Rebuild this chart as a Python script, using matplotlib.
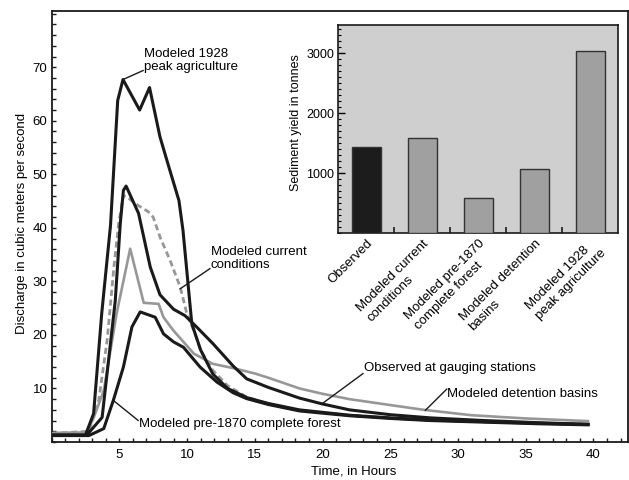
import matplotlib
matplotlib.use("Agg")
import matplotlib.pyplot as plt
from matplotlib.ticker import FixedLocator, MultipleLocator

plt.rcParams['font.family'] = ['Liberation Sans', 'DejaVu Sans']

# ---------------- data: hydrographs ----------------
obs_t = [0, 2.6, 3.73, 4.7, 5.07, 5.3, 5.5, 6.42, 7.28, 8.0, 9.0, 9.85, 10.7, 11.9, 13.4, 14.4, 16, 18.3, 20, 22, 25, 28, 32, 36, 39.6]
obs_q = [1.3, 1.3, 4.6, 26.4, 40.8, 47, 47.8, 42.7, 32.7, 27.5, 24.8, 23.6, 21.5, 18.4, 14.2, 11.8, 10.2, 8.2, 7.1, 6.0, 5.1, 4.5, 4.0, 3.6, 3.3]

agr_t = [0, 2.5, 3.1, 3.7, 4.35, 4.88, 5.27, 6.5, 7.23, 8.0, 8.7, 9.4, 9.7, 10.35, 11.0, 11.9, 13.0, 14.4, 16, 18.3, 22, 25, 28, 32, 36, 39.6]
agr_q = [1.3, 1.3, 5.3, 24, 40.5, 63.8, 67.7, 62, 66.2, 57, 51, 45.1, 39.5, 22.1, 17.2, 12.7, 10.0, 8.3, 7.2, 6.0, 5.0, 4.5, 4.1, 3.8, 3.5, 3.3]

cur_t = [0, 2.75, 3.48, 4.1, 4.6, 4.95, 5.3, 5.56, 6.18, 7.15, 7.5, 8.0, 8.75, 9.5, 9.98, 10.5, 11.0, 11.9, 13.0, 14.4, 16, 18.3, 22, 25, 28, 32, 36, 39.6]
cur_q = [1.6, 2.0, 7.8, 19, 32.7, 40.8, 46, 45.8, 44.5, 43, 42, 38.3, 33.9, 28.9, 24, 20.8, 17.1, 13.4, 10.5, 8.4, 7.1, 5.9, 5.0, 4.5, 4.1, 3.8, 3.5, 3.3]

det_t = [0, 2.6, 3.1, 3.85, 4.8, 5.8, 6.8, 7.9, 8.26, 9.0, 10.5, 11.9, 13.4, 15, 16, 18.3, 20, 22, 25, 27.5, 31, 35, 39.6]
det_q = [1.7, 1.8, 4.5, 9.6, 24, 36.1, 26, 25.8, 23.3, 20.8, 16.5, 14.6, 13.8, 12.8, 12.0, 10.0, 9.0, 8.0, 6.9, 6.0, 5.0, 4.4, 3.9]

for_t = [0, 2.75, 3.85, 4.56, 5.3, 5.93, 6.54, 7.65, 8.26, 9.0, 9.73, 10.96, 12.2, 13.4, 14.4, 16, 18.3, 22, 25, 28, 32, 36, 39.6]
for_q = [1.2, 1.2, 2.5, 7.8, 14, 21.5, 24.3, 23.3, 20.2, 18.7, 17.7, 14, 11.2, 9.2, 8.1, 7.0, 5.8, 4.9, 4.4, 4.0, 3.7, 3.4, 3.2]

# ---------------- data: sediment bars ----------------
bar_labels = ["Observed", "Modeled current\nconditions", "Modeled pre-1870\ncomplete forest",
              "Modeled detention\nbasins", "Modeled 1928\npeak agriculture"]
bar_values = [1440, 1580, 590, 1066, 3045]
bar_colors = ["#1c1c1c", "#a0a0a0", "#a0a0a0", "#a0a0a0", "#a0a0a0"]

x_major = [5, 10, 15, 20, 25, 30, 35, 40]
y_major = [10, 20, 30, 40, 50, 60, 70]

BLACK = "#1a1a1a"
GRAY = "#979797"
FS = 9.5

fig = plt.figure(figsize=(6.29, 4.80), dpi=100)
W, H = 629.0, 480.0
ax = fig.add_axes([51.6 / W, 38 / H, (628 - 51.6) / W, (442 - 11) / H])

ax.plot(det_t, det_q, color=GRAY, lw=1.9, zorder=2)
ax.plot(cur_t, cur_q, color=GRAY, lw=2.0, dashes=(2.2, 1.3), zorder=3)
ax.plot(for_t, for_q, color=BLACK, lw=2.2, zorder=4)
ax.plot(obs_t, obs_q, color=BLACK, lw=2.2, zorder=4)
ax.plot(agr_t, agr_q, color=BLACK, lw=2.2, zorder=4)

ax.set_xlim(0, 42.55)
ax.set_ylim(0, 80.5)
ax.xaxis.set_major_locator(FixedLocator(x_major))
ax.xaxis.set_minor_locator(MultipleLocator(1))
ax.yaxis.set_major_locator(FixedLocator(y_major))
ax.yaxis.set_minor_locator(MultipleLocator(2))
ax.tick_params(which='both', direction='in', length=3.0, width=1.0, color=BLACK)
ax.tick_params(axis='x', which='major', labelsize=FS, pad=5)
ax.tick_params(axis='y', which='major', labelsize=FS, pad=3)
for s in ax.spines.values():
    s.set_linewidth(1.3)
    s.set_color(BLACK)

ax.set_xlabel("Time, in Hours", fontsize=FS, va='top')
ax.xaxis.set_label_coords((354 - 51.6) / 576.4, (442 - 465) / 431.0)
ax.set_ylabel("Discharge in cubic meters per second", fontsize=FS)
ax.yaxis.set_label_coords((28 - 51.6) / 576.4, (442 - 223) / 431.0)

lead = dict(arrowstyle='-', lw=1.0, color=BLACK, shrinkA=0, shrinkB=0)
def label(txt, tx, ty, sx, sy, ex, ey):
    ax.text(tx, ty, txt, fontsize=FS, ha='left', va='center', linespacing=1.15, zorder=6)
    ax.annotate("", xy=(ex, ey), xytext=(sx, sy), arrowprops=lead, zorder=6)

label("Modeled 1928\npeak agriculture", 6.82, 71.2, 6.77, 69.4, 5.27, 67.7)
label("Modeled current\nconditions", 11.75, 34.3, 11.70, 32.4, 9.48, 28.6)
label("Observed at gauging stations", 23.07, 13.9, 23.0, 12.8, 19.97, 7.16)
label("Modeled detention basins", 29.18, 8.9, 29.18, 9.9, 27.58, 5.89)
label("Modeled pre-1870 complete forest", 6.48, 3.4, 6.4, 4.0, 4.56, 7.76)

# ---------------- inset bar chart ----------------
ax2 = fig.add_axes([338.3 / W, (480 - 233.3) / H, (618.3 - 338.3) / W, (233.3 - 25) / H])
ax2.set_facecolor("#cfcfcf")
xs = list(range(len(bar_values)))
ax2.bar(xs, bar_values, width=0.52, color=bar_colors, edgecolor="#333333", linewidth=1.0, zorder=3)
ax2.set_xlim(-0.5, 4.5)
ax2.set_ylim(0, 3470)
ax2.set_xticks(xs)
ax2.set_xticklabels(bar_labels)
ax2.set_xticks([0.5, 1.5, 2.5, 3.5], minor=True)
ax2.tick_params(axis='x', which='major', length=0, pad=3, labelsize=FS)
ax2.tick_params(axis='x', which='minor', direction='in', length=4, width=1.2, color=BLACK)
for lab in ax2.get_xticklabels():
    lab.set_rotation(45)
    lab.set_ha('right')
    lab.set_va('top')
    lab.set_rotation_mode('anchor')
    lab.set_multialignment('left')
    lab.set_linespacing(1.25)
ax2.yaxis.set_major_locator(FixedLocator([1000, 2000, 3000]))
ax2.yaxis.set_minor_locator(MultipleLocator(100))
ax2.tick_params(axis='y', which='major', direction='in', length=5, width=1.0, labelsize=9, pad=3)
ax2.tick_params(axis='y', which='minor', direction='in', length=2.2, width=0.8)
for s in ax2.spines.values():
    s.set_linewidth(1.2)
    s.set_color(BLACK)
ax2.set_ylabel("Sediment yield in tonnes", fontsize=9)
ax2.yaxis.set_label_coords((301.5 - 338.3) / 280.0, (233.3 - 122.5) / 208.3)

fig.savefig("out.png", dpi=100)
